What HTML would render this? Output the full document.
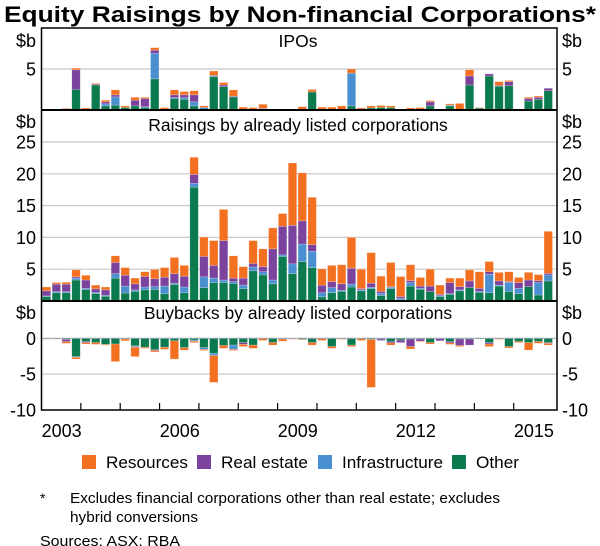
<!DOCTYPE html>
<html><head><meta charset="utf-8"><style>
body{margin:0;background:#fff;}
svg{display:block;font-family:"Liberation Sans",Arial,sans-serif;}
</style></head><body>
<svg id="chart" width="600" height="546" viewBox="0 0 600 546">
<text x="300" y="22" text-anchor="middle" font-size="22" font-weight="bold" textLength="592" lengthAdjust="spacingAndGlyphs">Equity Raisings by Non-financial Corporations*</text>
<g id="grid"></g>
<g id="bars"></g>
<g id="frame"></g>
<g id="labels"></g>
<g>
<rect x="82" y="455" width="14" height="14" fill="#f37021"/>
<text x="106" y="468" font-size="17" textLength="82" lengthAdjust="spacingAndGlyphs">Resources</text>
<rect x="197" y="455" width="14" height="14" fill="#7b439d"/>
<text x="221" y="468" font-size="17" textLength="87" lengthAdjust="spacingAndGlyphs">Real estate</text>
<rect x="318" y="455" width="14" height="14" fill="#4a8fd0"/>
<text x="342" y="468" font-size="17" textLength="101" lengthAdjust="spacingAndGlyphs">Infrastructure</text>
<rect x="452" y="455" width="14" height="14" fill="#0b7a4e"/>
<text x="476" y="468" font-size="17" textLength="43" lengthAdjust="spacingAndGlyphs">Other</text>
</g>
<text x="40" y="503" font-size="14">*</text>
<text x="70" y="503" font-size="15" textLength="430" lengthAdjust="spacingAndGlyphs">Excludes financial corporations other than real estate; excludes</text>
<text x="70" y="522" font-size="15" textLength="128" lengthAdjust="spacingAndGlyphs">hybrid conversions</text>
<text x="40" y="546" font-size="15" textLength="140" lengthAdjust="spacingAndGlyphs">Sources:  ASX; RBA</text>
</svg>
<script>
// Quarterly data 2003Q1..2015Q4 ($b)
const years = ["2003","2006","2009","2012","2015"];
const ipoOther = [0,0,0,2.5,0,3.05,0.5,0.6,0.3,0.5,0.3,3.8,0,1.4,1.3,0.5,0,4.05,2.85,1.6,0,0,0.1,0,0,0,0.1,2.2,0,0,0,0.5,0,0.25,0.3,0.3,0,0,0,0.5,0,0.5,0,3.05,0.25,4.15,2.9,2.95,0,1.1,1.3,2.35];
const ipoInfra = [0,0,0,0,0,0,0.25,1,0,0,0.1,3.1,0,0.1,0.2,0.5,0.3,0.15,0,0,0,0,0.1,0,0,0,0,0,0,0,0,4,0,0,0,0,0,0,0,0,0,0.1,0,0,0,0,0,0,0,0,0,0];
const ipoRealEstate = [0,0.1,0.1,2.4,0,0.1,0.25,0.25,0,0.7,1.0,0.4,0.1,0.35,0.35,0.85,0,0,0.2,0.1,0,0,0,0,0,0,0,0,0,0,0,0,0,0,0,0,0,0,0.1,0.5,0,0,0,1.1,0,0.25,0.1,0.5,0,0.3,0.25,0.3];
const ipoResources = [0.1,0,0.1,0.2,0.25,0.1,0.2,0.6,0.2,0.35,0.15,0.3,0.2,0.6,0.4,0.5,0.2,0.55,0.3,0.75,0.35,0.3,0.5,0,0.1,0,0.3,0.3,0.35,0.35,0.5,0.5,0.25,0.25,0.25,0.2,0.1,0.25,0.2,0.15,0.1,0.15,0.8,0.75,0.05,0,0.45,0.15,0.1,0.15,0.15,0];

const lstOther = [0.7,1.3,1.3,3.3,1.8,1.15,0.75,3.6,1.25,1.5,1.75,1.8,1.15,2.6,1.3,17.9,2.1,2.9,2.9,2.75,1.95,4.75,4.1,2.7,7,4.3,6.2,5.25,0.65,1.3,1.5,2.2,1.6,1.95,0.85,1.95,0.25,2.35,1.85,1.5,0.7,1.05,1.6,2.1,1.35,1.3,2.35,1.5,1.15,2.25,0.95,3.15];
const lstInfra = [0.1,0.15,0.15,0.3,0.2,0.2,0.15,0.7,1.1,0.25,0.45,0.45,1.2,0.2,0.9,0.6,1.7,0.7,0.4,0.3,0.55,0.6,0.5,0.6,0.25,1.55,2.75,2.55,0.65,0.8,0.2,0.45,0.15,0.2,0.35,0.2,0.2,0.55,0.15,0,0.15,0.1,0.15,0,0.15,2.9,0.15,1.45,0.85,0,1.95,0.95];
const lstRealEstate = [0.8,1.2,1.2,0.2,1.3,0.55,0.85,1.75,1.7,0.95,1.65,1.25,1.4,1.5,1.7,1.4,3.2,2.0,6.2,0.55,1.1,0.55,0.8,4.9,4.5,6.05,3.65,1.05,1.2,0.95,1.0,2.5,0.2,0.65,0.3,0.1,0.25,0.3,0.35,0.85,0.2,1.75,0.5,1.05,0.5,0.4,0.65,0.1,0.9,1.05,0.3,0.25];
const lstResources = [0.6,0.25,0.3,1.1,0.75,0.6,0.45,1.05,1.2,0.9,0.75,1.45,1.5,2.55,1.7,2.7,3.05,3.9,4.9,3.5,1.8,3.6,2.8,3.3,2,9.8,7.55,7.45,2.55,2.55,3.0,4.85,3.05,4.8,2.4,3.8,3.15,2.5,1.35,2.65,1.45,0.7,1.35,1.75,2.6,1.6,1.35,1.55,0.8,1.2,0.95,6.6];

const bbOther = [-0.05,-0.05,-0.15,-2.55,-0.45,-0.6,-0.85,-0.8,-0.1,-1.05,-1.25,-1.6,-1.25,-0.35,-1.3,-0.25,-1.3,-2.1,-1.0,-0.95,-0.6,-0.95,0,-0.6,0,-0.05,-0.15,-0.6,0,-1.15,-0.05,-0.95,0,-0.15,-0.1,-0.45,-0.25,-0.1,-0.1,-0.6,-0.05,-0.45,-0.1,-0.1,-0.1,-0.6,0,-1.15,-0.45,-0.6,-0.45,-0.6];
const bbInfra = [0,0,0,-0.1,0,0,0,0,0,-0.1,0,0,0,0,0,-0.15,-0.25,-0.3,0,-0.6,0,0,0,0,-0.1,0,0,0,0,0,0,0,0,0,0,0,0,0,0,0,0,0,0,0,0,0,0,0,0,0,0,0];
const bbRealEstate = [0,0,-0.3,0,-0.15,0,0,0,0,-0.1,0,-0.1,0,0,0,0,0,0,0,0,-0.25,0,0,0,0,0,0,0,0,0,0,0,0,0,-0.2,-0.2,-0.35,-1.05,-0.3,0,-0.3,-0.2,-0.9,-0.85,0,-0.2,0,0,0,0,0,-0.1];
const bbResources = [-0.05,-0.05,-0.25,-0.25,-0.2,-0.25,-0.1,-2.45,-0.25,-1.3,-0.15,-0.2,-0.3,-2.55,-0.35,-0.2,-0.15,-3.75,-0.4,-0.15,-0.3,-0.45,-0.3,-0.35,-0.3,-0.05,-0.05,-0.35,-0.3,-0.25,-0.1,-0.2,-0.3,-6.7,0,-0.3,0,-0.35,-0.05,-0.2,0,-0.2,-0.15,0,0,-0.35,-0.15,-0.2,-0.15,-1.05,-0.25,-0.25];

const ipoTicks = [5];
const lstTicks = [5,10,15,20,25];
const bbTicks = [0,-5,-10];
</script>
<script>
const NS = "http://www.w3.org/2000/svg";
const L = 41.5, R = 557, PITCH = (R - L) / 52.4, X0 = 42;
function xq(i){ return X0 + i * PITCH; }
const panels = [
  {top:28, bot:110, zeroY:110, ppu:8.2},
  {top:110, bot:301, zeroY:301, ppu:6.36},
  {top:301, bot:410, zeroY:338.3, ppu:7.17}
];
function yv(p, v){ return panels[p].zeroY - v * panels[p].ppu; }
const colors = {o:"#0b7a4e", i:"#4a8fd0", re:"#7b439d", res:"#f37021"};
function el(tag, attrs, parent){
  const e = document.createElementNS(NS, tag);
  for (const k in attrs) e.setAttribute(k, attrs[k]);
  parent.appendChild(e);
  return e;
}
const grid = document.getElementById("grid");
const bars = document.getElementById("bars");
const frame = document.getElementById("frame");
const labels = document.getElementById("labels");

function gridLine(p, v){
  const g = el("line", {x1:L, x2:R, y1:yv(p,v), y2:yv(p,v), stroke:"#c8c8c8", "stroke-width":1.2}, grid);
  
  
}
function tickLabel(p, v, text){
  const y = yv(p, v) + 6.5;
  const a = el("text", {x:36, y:y, "text-anchor":"end", "font-size":18}, labels);
  a.textContent = text;
  
  
  const b = el("text", {x:562, y:y, "font-size":18}, labels);
  b.textContent = text;
  
  
}
function unitLabel(y){
  const a = el("text", {x:36, y:y, "text-anchor":"end", "font-size":18}, labels);
  a.textContent = "$b";
  
  
  const b = el("text", {x:562, y:y, "font-size":18}, labels);
  b.textContent = "$b";
  
  
}
ipoTicks.forEach(v => { gridLine(0, v); tickLabel(0, v, String(v)); });
lstTicks.forEach(v => { gridLine(1, v); tickLabel(1, v, String(v)); });
bbTicks.forEach(v => { if (v !== -10) gridLine(2, v); tickLabel(2, v, String(v)); });
unitLabel(47); unitLabel(128); unitLabel(319);

function stack(p, series, name){
  const n = series[0].vals.length;
  for (let i = 0; i < n; i++){
    let acc = 0;
    series.forEach(s => {
      const v = s.vals[i];
      if (!v) return;
      const y1 = yv(p, acc), y2 = yv(p, acc + v);
      acc += v;
      const r = el("rect", {x:xq(i)+0.3, y:Math.min(y1,y2), width:PITCH-1.4, height:Math.max(Math.abs(y2-y1),0.6), fill:colors[s.c], stroke:"#ffffff", "stroke-opacity":0.35, "stroke-width":0.6}, bars);
      
      
    });
  }
}
stack(0, [{c:"o",vals:ipoOther},{c:"i",vals:ipoInfra},{c:"re",vals:ipoRealEstate},{c:"res",vals:ipoResources}], "ipo");
stack(1, [{c:"o",vals:lstOther},{c:"i",vals:lstInfra},{c:"re",vals:lstRealEstate},{c:"res",vals:lstResources}], "listed");
stack(2, [{c:"o",vals:bbOther},{c:"i",vals:bbInfra},{c:"re",vals:bbRealEstate},{c:"res",vals:bbResources}], "buyback");

const z = el("line", {x1:L, x2:R, y1:yv(2,0), y2:yv(2,0), stroke:"#9ab", "stroke-width":0.8}, frame);



const box = el("rect", {x:L, y:28, width:R-L, height:382, fill:"none", stroke:"#000", "stroke-width":1.5}, frame);


[110, 301].forEach(y => {
  const s = el("line", {x1:L, x2:R, y1:y, y2:y, stroke:"#000", "stroke-width":2}, frame);
  
  
});
for (let k = 4; k < 52; k += 4){
  const t = el("line", {x1:xq(k)-0.5, x2:xq(k)-0.5, y1:410, y2:403, stroke:"#000", "stroke-width":1.2}, frame);
  
  
}
years.forEach((yr, j) => {
  const t = el("text", {x:xq(j*12+2), y:437, "text-anchor":"middle", "font-size":18}, labels);
  t.textContent = yr;
  
  
});
const titles = [["IPOs",47],["Raisings by already listed corporations",131],["Buybacks by already listed corporations",319]];
titles.forEach(([txt,y]) => {
  const t = el("text", {x:298, y:y, "text-anchor":"middle", "font-size":17.5}, labels);
  t.textContent = txt;
  
  
});
</script>
</body></html>
